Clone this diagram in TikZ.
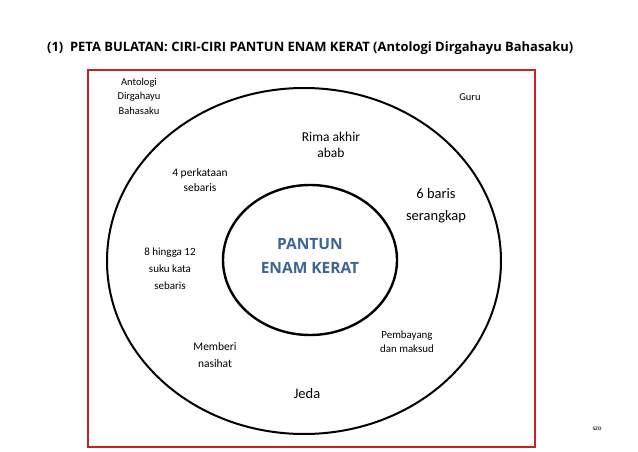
\documentclass[tikz,border=0pt]{standalone}
\usepackage{fontspec}
\setmainfont{Carlito}
\newfontfamily\titlefont{Open Sans}
\usetikzlibrary{shapes.geometric}
\definecolor{frame}{RGB}{204,32,40}
\definecolor{core}{RGB}{60,100,150}
\tikzset{
  lbl/.style={align=center, inner sep=0pt},
  ring/.style={draw=black, line width=2pt},
}
\newcommand{\fs}[2]{\fontsize{#1}{#2}\selectfont}
\begin{document}
\begin{tikzpicture}[x=1pt,y=-1pt]
\path[use as bounding box, fill=white] (0,0) rectangle (638,452);
% title
\node[lbl, anchor=west] (title) at (47,48) {\resizebox{526pt}{!}{\titlefont\bfseries (1)\ \ PETA BULATAN: CIRI-CIRI PANTUN ENAM KERAT (Antologi Dirgahayu Bahasaku)}};
% frame
\draw[frame, line width=2.5pt] (88,70) rectangle (535,447);
% rings
\draw[ring] (304,261) ellipse [x radius=197, y radius=173];
\draw[ring, line width=2.4pt] (310,260) ellipse [x radius=87, y radius=75];
% labels
\node[lbl, font=\fs{10.5}{14.5}] (antologi) at (139,96) {Antologi\\Dirgahayu\\Bahasaku};
\node[lbl, font=\fs{10.5}{14}] (guru) at (470,97) {Guru};
\node[lbl, font=\fs{13.5}{16}] (rima) at (331,145) {Rima akhir\\abab};
\node[lbl, font=\fs{11.5}{15}] (perkataan) at (200,180) {4 perkataan\\sebaris};
\node[lbl, font=\fs{14.5}{22}] (baris) at (436,206) {6 baris\\serangkap};
\node[lbl, font=\fs{11}{17}] (hingga) at (170,269) {8 hingga 12\\suku kata\\sebaris};
\node[lbl, font=\fs{15.5}{24}\titlefont\bfseries, text=core] (core) at (310,256) {PANTUN\\ENAM KERAT};
\node[lbl, font=\fs{10.9}{14}] (pembayang) at (407,342) {Pembayang\\dan maksud};
\node[lbl, font=\fs{11.5}{17}] (memberi) at (215,355) {Memberi\\nasihat};
\node[lbl, font=\fs{14.5}{17}] (jeda) at (307,394) {Jeda};
\node[lbl, font=\fs{7}{8}] (szo) at (597,429) {szo};
\end{tikzpicture}
\end{document}
